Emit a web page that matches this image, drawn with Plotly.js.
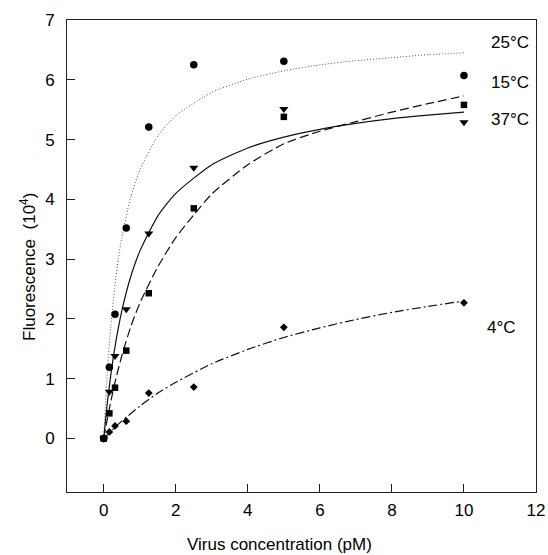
<!DOCTYPE html>
<html>
<head>
<meta charset="utf-8">
<script src="https://cdn.plot.ly/plotly-3.0.1.min.js"></script>
<style>
html,body{margin:0;padding:0;background:#fff;}
#chart{width:548px;height:555px;}
</style>
</head>
<body>
<div id="chart"></div>
<script>
// Measured points: virus concentration (pM)
const conc = [0, 0.156, 0.3125, 0.625, 1.25, 2.5, 5, 10];
const pts25 = [0, 1.19, 2.08, 3.52, 5.21, 6.25, 6.31, 6.07];
const pts15 = [0, 0.42, 0.85, 1.47, 2.43, 3.85, 5.38, 5.58];
const pts37 = [0, 0.78, 1.38, 2.16, 3.43, 4.53, 5.51, 5.29];
const pts4  = [0, 0.11, 0.21, 0.29, 0.76, 0.86, 1.86, 2.27];

// Fitted curves
const fit25x = [0, 0.05, 0.1, 0.2, 0.3, 0.4, 0.5, 0.75, 1, 1.5, 2, 3, 4, 5, 6, 7, 8, 9, 10];
const fit25y = [0, 0.61, 1.11, 1.91, 2.51, 2.98, 3.36, 4.04, 4.49, 5.06, 5.40, 5.79, 6.01, 6.15, 6.25, 6.32, 6.37, 6.42, 6.45];

const fit15x = [0, 0.1, 0.2, 0.3, 0.5, 0.75, 1, 1.5, 2, 2.5, 3, 4, 5, 6, 7, 8, 9, 10];
const fit15y = [0, 0.33, 0.63, 0.91, 1.38, 1.87, 2.26, 2.87, 3.36, 3.74, 4.09, 4.58, 4.93, 5.14, 5.30, 5.46, 5.60, 5.73];

const fit37x = [0, 0.05, 0.1, 0.2, 0.3, 0.5, 0.75, 1, 1.5, 2, 3, 4, 5, 6, 7, 8, 9, 10];
const fit37y = [0, 0.31, 0.60, 1.08, 1.49, 2.13, 2.71, 3.13, 3.72, 4.10, 4.58, 4.86, 5.04, 5.17, 5.27, 5.35, 5.41, 5.46];

const fit4x = [0, 0.1, 0.25, 0.5, 1, 1.5, 2, 3, 4, 5, 6, 7, 8, 9, 10];
const fit4y = [0, 0.06, 0.15, 0.29, 0.54, 0.76, 0.94, 1.25, 1.49, 1.69, 1.85, 1.99, 2.11, 2.21, 2.30];

const seriesLabels = ['25°C', '15°C', '37°C', '4°C'];
const labelX = [11.28, 11.28, 11.28, 11.04];
const labelY = [6.62, 5.95, 5.33, 1.85];

const xTicks = [0, 2, 4, 6, 8, 10, 12];
const yTicks = [0, 1, 2, 3, 4, 5, 6, 7];

const FONT = 'Arial, "Liberation Sans", Helvetica, sans-serif';
const ink = '#000';

function curve(x, y, dash, width, color) {
  return {x: x, y: y, mode: 'lines', type: 'scatter', hoverinfo: 'skip',
    line: {color: color, width: width, dash: dash, shape: 'spline', smoothing: 0.6}, showlegend: false};
}
function points(y, symbol, size) {
  return {x: conc, y: y, mode: 'markers', type: 'scatter', showlegend: false,
    marker: {symbol: symbol, size: size, color: ink, line: {width: 0}}};
}

const data = [
  curve(fit25x, fit25y, '1px,2px', 1, '#555'),
  curve(fit15x, fit15y, '9px,4px', 1.2, '#111'),
  curve(fit37x, fit37y, 'solid', 1.2, '#111'),
  curve(fit4x, fit4y, '9px,3px,2px,3px', 1.2, '#111'),
  points(pts4, 'diamond', 6),
  points(pts15, 'square', 6.5),
  points(pts37, 'triangle-down', 8),
  points(pts25, 'circle', 7.5)
];

const annotations = seriesLabels.map((t, i) => ({
  text: t, x: labelX[i], y: labelY[i], xref: 'x', yref: 'y',
  showarrow: false, font: {family: FONT, size: 17, color: ink}, xanchor: 'center', yanchor: 'middle'
}));
annotations.push({
  text: 'Virus concentration (pM)', xref: 'x', yref: 'paper', x: 4.88, y: -0.111,
  showarrow: false, font: {family: FONT, size: 17, color: ink}, xanchor: 'center', yanchor: 'middle'
});
annotations.push({
  text: 'Fluorescence  (10<sup>4</sup>)', xref: 'paper', yref: 'y', x: -0.083, y: 2.87,
  textangle: -90, showarrow: false, font: {family: FONT, size: 17, color: ink}, xanchor: 'center', yanchor: 'middle'
});

const layout = {
  width: 548, height: 555,
  margin: {l: 67, r: 12, t: 20, b: 63},
  paper_bgcolor: '#fff', plot_bgcolor: '#fff',
  showlegend: false,
  font: {family: FONT, size: 17, color: ink},
  xaxis: {
    range: [-1.02, 12.0], tickvals: xTicks, ticktext: xTicks.map(String),
    ticks: 'inside', ticklen: 8, tickwidth: 1, tickcolor: '#222',
    showline: true, linecolor: '#222', linewidth: 1, mirror: true,
    showgrid: false, zeroline: false, ticklabelstandoff: 3,
    tickfont: {family: FONT, size: 17, color: ink}
  },
  yaxis: {
    range: [-0.895, 7], tickvals: yTicks, ticktext: yTicks.map(String),
    ticks: 'inside', ticklen: 8, tickwidth: 1, tickcolor: '#222',
    showline: true, linecolor: '#222', linewidth: 1, mirror: true,
    showgrid: false, zeroline: false, ticklabelstandoff: 8,
    tickfont: {family: FONT, size: 17, color: ink}
  },
  annotations: annotations
};

Plotly.newPlot('chart', data, layout, {staticPlot: true, displayModeBar: false});
</script>
</body>
</html>
